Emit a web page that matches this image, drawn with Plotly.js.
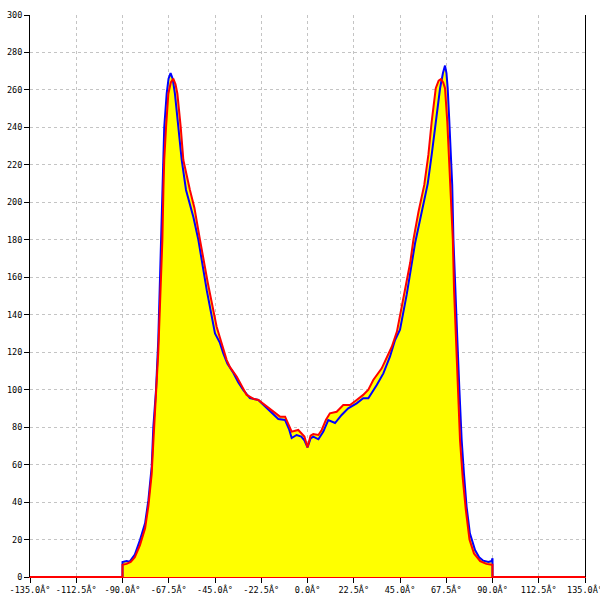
<!DOCTYPE html>
<html>
<head>
<meta charset="utf-8">
<script src="https://cdn.plot.ly/plotly-3.0.1.min.js"></script>
<style>html,body{margin:0;padding:0;background:#fff;}#chart{width:600px;height:600px;}</style>
</head>
<body>
<div id="chart"></div>
<script>
// Tick labels (as shown in the reference, including the encoding artefact)
const tickValues = [-135, -112.5, -90, -67.5, -45, -22.5, 0, 22.5, 45, 67.5, 90, 112.5, 135];
const tickLabels = ["-135.0Â°", "-112.5Â°", "-90.0Â°", "-67.5Â°", "-45.0Â°", "-22.5Â°", "0.0Â°",
                    "22.5Â°", "45.0Â°", "67.5Â°", "90.0Â°", "112.5Â°", "135.0Â°"];

// Blue series
const blueAngles = [-135, -90.01, -90, -88, -86.5, -84, -81.5, -79, -77.4, -75.8, -75, -73.7, -72.6, -71.8,
  -71.2, -70.6, -70.2, -69.7, -68.5, -67.6, -66.6, -65.6, -64.5, -62.8, -61.2, -59.1, -57, -55.5, -53.1,
  -49, -45, -42.6, -41, -39, -36.1, -33.7, -31.2, -28, -23.9, -19.8, -17, -14.2, -10.9, -9, -7.7, -5.3,
  -3, -1.5, 0, 1.5, 2.8, 5.3, 7.7, 10.1, 13.4, 16.6, 19.8, 23.9, 27.1, 29.6, 33.7, 36.9, 40.1, 42.6, 45,
  48.3, 52.3, 56.3, 58.5, 60.4, 62.4, 64.5, 65.9, 66.9, 67.6, 68.2, 69, 69.7, 70.4, 71, 71.8, 72.9, 73.9,
  75, 76.1, 77.4, 79, 81.5, 83.5, 85.5, 88, 89.6, 90, 90.01, 135];
const blueValues = [0, 0, 8, 8.5, 8.2, 12, 19.7, 28.8, 41, 58.9, 80, 99.8, 126.5, 160,
  185, 210, 222, 240, 258, 266, 269, 266, 258, 240, 222.6, 206.6, 198, 192, 180,
  153, 130, 125, 119.5, 114, 109, 104, 99.8, 95.5, 94.5, 90.2, 87, 84.3, 83.8, 79, 74.2, 75.8,
  75, 73, 69.2, 74, 74.9, 73.5, 77.6, 83.8, 82.2, 86.5, 90, 92.7, 95.4, 95.4, 102.5, 108.7, 117.6, 126.5, 132,
  151, 178, 199, 210, 225.3, 243, 260.9, 269, 273, 269, 260.9, 243, 225.3, 209.3, 180, 153, 126.5, 99.8,
  73.1, 55.3, 37.5, 23.3, 14.4, 10.5, 8.7, 8, 8.5, 10, 0, 0];

// Red series
const redAngles = [-135, -90.01, -90, -88, -86, -84, -81.5, -79, -77.4, -75.8, -75, -73.7, -72.6, -71.6,
  -70.6, -70.1, -69.7, -68.8, -67.7, -66.5, -65.3, -64.2, -63.3, -61.7, -60.4, -57.2, -55, -52.3,
  -48.5, -44.2, -41, -39.3, -37.7, -34.4, -29.6, -26, -23.9, -19.8, -16, -13.4, -10.9, -9, -7.7, -4.5,
  -2.8, -1.5, 0, 1.5, 2.8, 5.3, 6.9, 9, 10.9, 14.2, 17.4, 20.7, 23.9, 27.1, 29.6, 32, 36.1, 41, 43.5, 46.5,
  50, 51.5, 54, 56.8, 58.8, 60.4, 62.4, 63.8, 64.9, 66, 66.9, 68, 68.8, 69.7, 70.7, 71.3, 72.2, 73, 74.2,
  75.5, 77, 78.8, 81, 84, 87, 89.6, 90, 90.01, 135];
const redValues = [0, 0, 6.5, 7, 8, 10.5, 17, 26, 38, 55, 72, 95, 120, 150,
  180, 206.6, 222.6, 240.4, 258, 264, 266, 263, 258, 240.4, 222.6, 206.6, 197, 180,
  157, 133.6, 122, 115.8, 112, 106.9, 97.2, 95, 94.5, 90.9, 87.5, 85.6, 85.6, 81, 77.6, 78.5,
  76.7, 75, 69.2, 75.5, 76.3, 75.8, 78.5, 84, 87.4, 88.2, 91.8, 91.8, 94.5, 97.2, 100, 105.2, 111.4, 122.9, 131, 148,
  168, 180, 195, 209.3, 225.3, 243, 260.9, 265, 265.8, 264, 260.9, 243, 225.3, 209.3, 180, 153, 126, 100, 73,
  53, 36, 20, 12.5, 8.5, 7, 6.5, 6.5, 0, 0];

const yellow = '#ffff00';
const traces = [
  {x: blueAngles, y: blueValues, type: 'scatter', mode: 'lines', fill: 'tozeroy',
   fillcolor: yellow, line: {width: 0, color: yellow}, hoverinfo: 'skip'},
  {x: redAngles, y: redValues, type: 'scatter', mode: 'lines', fill: 'tozeroy',
   fillcolor: yellow, line: {width: 0, color: yellow}, hoverinfo: 'skip'},
  {x: blueAngles, y: blueValues, type: 'scatter', mode: 'lines',
   line: {color: '#0000ff', width: 2}},
  {x: redAngles, y: redValues, type: 'scatter', mode: 'lines',
   line: {color: '#ff0000', width: 2}}
];

const tickFont = {family: 'DejaVu Sans Mono, monospace', size: 8.5, color: '#000'};
const layout = {
  width: 600, height: 600,
  margin: {l: 30, r: 15, t: 15, b: 23, pad: 0},
  paper_bgcolor: '#fff', plot_bgcolor: '#fff',
  showlegend: false,
  xaxis: {
    range: [-135, 135], tickmode: 'array', tickvals: tickValues, ticktext: tickLabels,
    ticks: 'outside', ticklen: 5, tickcolor: '#000', tickwidth: 1,
    showline: true, linecolor: '#ff0000', linewidth: 1,
    showgrid: true, gridcolor: '#c4c4c4', gridwidth: 1, griddash: '3px,3px',
    zeroline: false, tickfont: tickFont, tickangle: 0, fixedrange: true,
    ticklabeloverflow: 'allow'
  },
  yaxis: {
    range: [0, 300], dtick: 20, tick0: 0,
    ticks: 'outside', ticklen: 5, tickcolor: '#000', tickwidth: 1,
    showline: true, linecolor: '#000', linewidth: 1, mirror: true,
    showgrid: true, gridcolor: '#c4c4c4', gridwidth: 1, griddash: '3px,3px',
    zeroline: false, tickfont: tickFont, fixedrange: true,
    ticklabeloverflow: 'allow'
  }
};

Plotly.newPlot('chart', traces, layout, {displayModeBar: false, staticPlot: true});
</script>
</body>
</html>
